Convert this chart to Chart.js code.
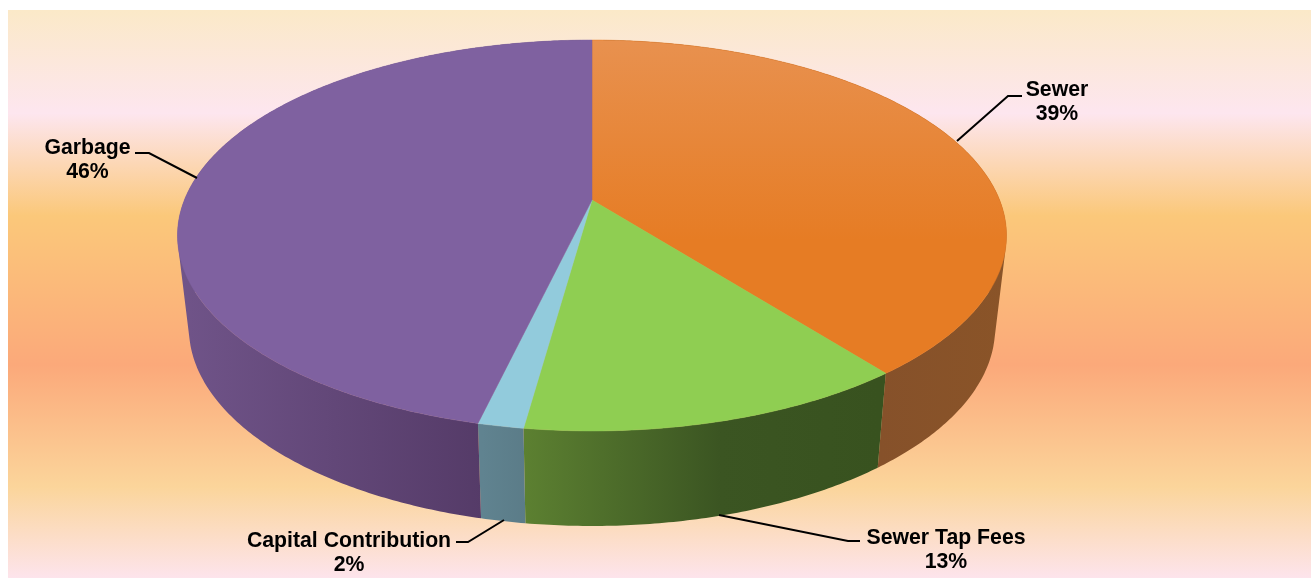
<!DOCTYPE html>
<html>
<head>
<meta charset="utf-8">
<title>Revenue by source</title>
<script src="https://cdn.jsdelivr.net/npm/chart.js@4"></script>
<style>
  html, body { margin: 0; padding: 0; background: #fff; }
  canvas { display: block; }
</style>
</head>
<body>
<canvas id="pie3d" width="1311" height="578"></canvas>
<script>
// ─── Data ──────────────────────────────────────────────────────
const categories = ['Sewer', 'Sewer Tap Fees', 'Capital Contribution', 'Garbage'];
const shares     = [39.4, 12.8, 1.5, 46.3];

// ─── Look ──────────────────────────────────────────────────────
const topColors  = [['#e8914f', '#e67c24'], ['#8fce52', '#8fce52'], ['#92cbdc', '#92cbdc'], ['#7f61a0', '#7f61a0']];
const wallColors = [
    [[879, '#86512a'], [1006, '#8a5428']],
    [[525, '#5c8031'], [720, '#3b5522'], [879, '#38521f']],
    [[482, '#608390'], [525, '#5b7c88']],
    [[178, '#705489'], [482, '#553b68']]
];
// top and bottom rim of the disc, in perspective (p = tilt of the view)
const TOP    = { cx: 592, cy: 200, a: 407.6, b: 189,   p: 0.1816 };
const BOTTOM = { cx: 592, cy: 292, a: 396.4, b: 191.5, p: 0.1816 };

const FONT = 'bold 21.25px "Liberation Sans", Arial, sans-serif';
const callouts = [
    { x: 1057, y: 90,  line: [[957, 141], [1008, 96], [1022, 96]] },
    { x: 946,  y: 538, line: [[719, 515], [848, 541], [860, 541]] },
    { x: 349,  y: 541, line: [[504, 520], [468, 542], [456, 542]] },
    { x: 87.5, y: 148, line: [[197, 178], [149, 153], [135, 153]] }
];

function project(plane, angle) {
    const w = 1 - plane.p * Math.sin(angle);
    return [plane.cx + plane.a * Math.cos(angle) / w, plane.cy + plane.b * Math.sin(angle) / w];
}

function arcAngles(arc) {
    const n = Math.max(2, Math.ceil((arc.endAngle - arc.startAngle) / 0.01));
    const out = [];
    for (let i = 0; i <= n; i++) out.push(arc.startAngle + (arc.endAngle - arc.startAngle) * i / n);
    return out;
}

function quadArea(q) {
    let s = 0;
    q.forEach((pt, i) => { const nx = q[(i + 1) % 4]; s += pt[0] * nx[1] - nx[0] * pt[1]; });
    return s;
}

// ─── Side wall of one slice ────────────────────────────────────
function drawWall(ctx, arc, stops) {
    const angles = arcAngles(arc);
    const first = stops[0][0], last = stops[stops.length - 1][0];
    const grad = ctx.createLinearGradient(first, 0, last, 0);
    stops.forEach(s => grad.addColorStop((s[0] - first) / (last - first), s[1]));

    ctx.beginPath();
    for (let i = 0; i < angles.length - 1; i++) {
        let q = [project(TOP, angles[i]), project(TOP, angles[i + 1]), project(BOTTOM, angles[i + 1]), project(BOTTOM, angles[i])];
        if (quadArea(q) < 0) q = q.reverse();
        ctx.moveTo(q[0][0], q[0][1]);
        q.slice(1).forEach(pt => ctx.lineTo(pt[0], pt[1]));
        ctx.closePath();
    }
    ctx.fillStyle = grad;
    ctx.fill('nonzero');
}

// ─── Top face of one slice ─────────────────────────────────────
function drawFace(ctx, arc, colors) {
    const grad = ctx.createLinearGradient(0, 40, 0, 240);
    grad.addColorStop(0, colors[0]);
    grad.addColorStop(1, colors[1]);

    ctx.beginPath();
    ctx.moveTo(TOP.cx, TOP.cy);
    arcAngles(arc).forEach(a => { const pt = project(TOP, a); ctx.lineTo(pt[0], pt[1]); });
    ctx.closePath();
    ctx.fillStyle = grad;
    ctx.fill();
    ctx.strokeStyle = colors[1];
    ctx.lineWidth = 0.5;
    ctx.stroke();
}

const pie3dPlugin = {
    id: 'pie3d',
    beforeDraw(chart) {
        const ctx = chart.ctx;
        const bg = ctx.createLinearGradient(0, 10, 0, 578);
        [[0, '#fbe9c8'], [0.182, '#fde6ef'], [0.362, '#fbc87a'], [0.625, '#fba97a'], [0.84, '#fbd59b'], [1, '#fde4ec']]
            .forEach(s => bg.addColorStop(s[0], s[1]));
        ctx.fillStyle = bg;
        ctx.fillRect(8, 10, chart.width - 8, chart.height - 10);
    },
    beforeDatasetsDraw(chart) {
        const ctx = chart.ctx;
        const arcs = chart.getDatasetMeta(0).data;
        ctx.save();
        arcs.forEach((arc, i) => drawWall(ctx, arc, wallColors[i]));
        arcs.forEach((arc, i) => drawFace(ctx, arc, topColors[i]));
        ctx.restore();
        return false;
    },
    afterDraw(chart) {
        const ctx = chart.ctx;
        ctx.save();
        ctx.font = FONT;
        ctx.fillStyle = '#000';
        ctx.textAlign = 'center';
        ctx.textBaseline = 'middle';
        ctx.strokeStyle = '#000';
        ctx.lineWidth = 2;
        callouts.forEach((c, i) => {
            ctx.beginPath();
            c.line.forEach((pt, k) => k ? ctx.lineTo(pt[0], pt[1]) : ctx.moveTo(pt[0], pt[1]));
            ctx.stroke();
            ctx.fillText(categories[i], c.x, c.y);
            ctx.fillText(Math.round(shares[i]) + '%', c.x, c.y + 24.5);
        });
        ctx.restore();
    }
};

new Chart(document.getElementById('pie3d'), {
    type: 'pie',
    data: { labels: categories, datasets: [{ data: shares, borderWidth: 0 }] },
    options: {
        responsive: false,
        animation: false,
        plugins: { legend: { display: false }, tooltip: { enabled: false } }
    },
    plugins: [pie3dPlugin]
});
</script>
</body>
</html>
